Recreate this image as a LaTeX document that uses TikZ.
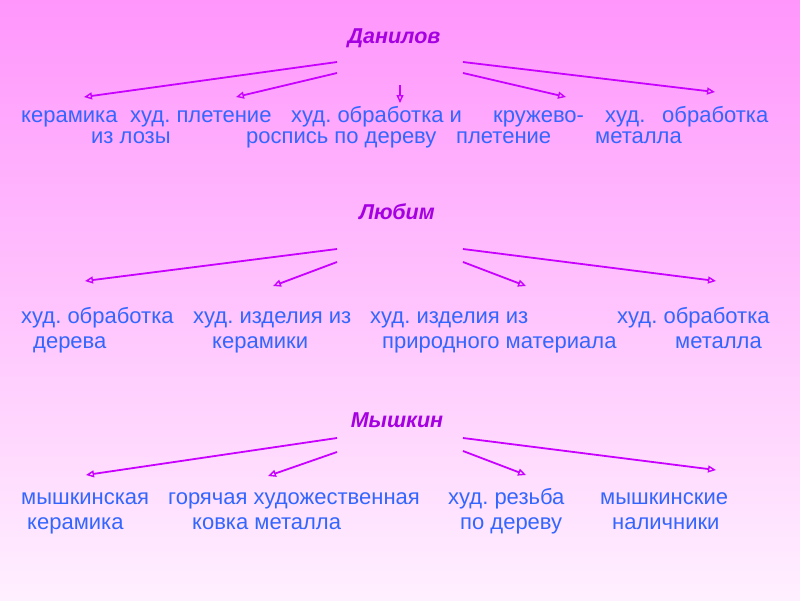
\documentclass[tikz,border=0pt]{standalone}
\usepackage{fontspec}
\setmainfont{Liberation Sans}
\usetikzlibrary{arrows.meta}
\frenchspacing
\definecolor{bgtop}{RGB}{255,150,252}
\definecolor{bgbot}{RGB}{255,240,255}
\definecolor{ttl}{RGB}{165,0,225}
\definecolor{arr}{RGB}{200,0,255}
\definecolor{txt}{RGB}{51,102,255}
\tikzset{
  title/.style={text=ttl, font=\fontsize{21.5}{21.5}\selectfont\bfseries\itshape, inner sep=0pt, anchor=base},
  item/.style={text=txt, font=\fontsize{22}{22}\selectfont\frenchspacing, inner sep=0pt, anchor=base west},
  link/.style={draw=arr, line width=1.8pt, -{Triangle[open, length=8pt, width=7pt, line width=1.4pt]}},
}
\begin{document}
\begin{tikzpicture}[x=1pt, y=-1pt]
\shade[top color=bgtop, bottom color=bgbot] (0,0) rectangle (800,600);
\useasboundingbox (0,0) rectangle (800,600);

% ---- Group 1: Данилов
\node[title] (t1) at (394,43) {Данилов};
\coordinate (s1a) at (337,62); \coordinate (e1a) at (84,97);
\coordinate (s1b) at (337,73); \coordinate (e1b) at (236,97);
\coordinate (s1c) at (400,85); \coordinate (e1c) at (400,103);
\coordinate (s1d) at (463,73); \coordinate (e1d) at (566,97);
\coordinate (s1e) at (463,62); \coordinate (e1e) at (715,92);
\draw[link] (s1a) -- (e1a);
\draw[link] (s1b) -- (e1b);
\draw[link] (s1c) -- (e1c);
\draw[link] (s1d) -- (e1d);
\draw[link] (s1e) -- (e1e);
\node[item] (a1) at (21,122) {керамика};
\node[item] (a2) at (91,143) {из лозы};
\node[item] (a3) at (130,122) {худ. плетение};
\node[item] (a4) at (291,122) {худ. обработка и};
\node[item] (a5) at (246,143) {роспись по дереву};
\node[item] (a6) at (493,122) {кружево-};
\node[item] (a7) at (456,143) {плетение};
\node[item] (a8) at (605,122) {худ.};
\node[item] (a9) at (662,122) {обработка};
\node[item] (a10) at (595,143) {металла};

% ---- Group 2: Любим
\node[title] (t2) at (397,219) {Любим};
\coordinate (s2a) at (337,249); \coordinate (e2a) at (85,281);
\coordinate (s2b) at (337,262); \coordinate (e2b) at (273,286);
\coordinate (s2c) at (463,262); \coordinate (e2c) at (526,286);
\coordinate (s2d) at (463,249); \coordinate (e2d) at (716,281);
\draw[link] (s2a) -- (e2a);
\draw[link] (s2b) -- (e2b);
\draw[link] (s2c) -- (e2c);
\draw[link] (s2d) -- (e2d);
\node[item] (b1) at (21,323) {худ. обработка};
\node[item] (b2) at (33,348) {дерева};
\node[item] (b3) at (193,323) {худ. изделия из};
\node[item] (b4) at (212,348) {керамики};
\node[item] (b5) at (370,323) {худ. изделия из};
\node[item] (b6) at (382,348) {природного материала};
\node[item] (b7) at (617,323) {худ. обработка};
\node[item] (b8) at (675,348) {металла};

% ---- Group 3: Мышкин
\node[title] (t3) at (397,427) {Мышкин};
\coordinate (s3a) at (337,438); \coordinate (e3a) at (86,475);
\coordinate (s3b) at (337,452); \coordinate (e3b) at (268,476);
\coordinate (s3c) at (463,451); \coordinate (e3c) at (526,475);
\coordinate (s3d) at (463,438); \coordinate (e3d) at (716,470);
\draw[link] (s3a) -- (e3a);
\draw[link] (s3b) -- (e3b);
\draw[link] (s3c) -- (e3c);
\draw[link] (s3d) -- (e3d);
\node[item] (c1) at (21,504) {мышкинская};
\node[item] (c2) at (27,529) {керамика};
\node[item] (c3) at (168,504) {горячая художественная};
\node[item] (c4) at (192,529) {ковка металла};
\node[item] (c5) at (448,504) {худ. резьба};
\node[item] (c6) at (460,529) {по дереву};
\node[item] (c7) at (600,504) {мышкинские};
\node[item] (c8) at (612,529) {наличники};
\end{tikzpicture}
\end{document}
